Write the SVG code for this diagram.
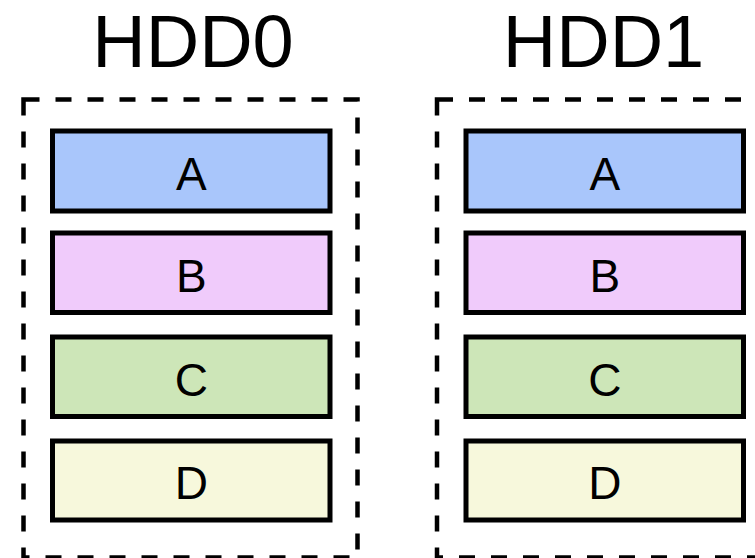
<svg xmlns="http://www.w3.org/2000/svg" width="755" height="558" viewBox="0 0 755 558">
  <style>
    .disk { fill: none; stroke: #000; stroke-width: 4.5; stroke-dasharray: 16 16; stroke-linejoin: miter; }
    .part { stroke: #000; stroke-width: 5; }
    .title { font-family: "Liberation Sans", Arial, sans-serif; font-size: 74px; fill: #000; text-anchor: middle; }
    .label { font-family: "Liberation Sans", Arial, sans-serif; font-size: 46px; fill: #000; text-anchor: middle; }
    .a { fill: #a9c6fb; }
    .b { fill: #f0cbfb; }
    .c { fill: #cde6b8; }
    .d { fill: #f7f8dc; }
  </style>

  <!-- Disk 0 -->
  <g id="hdd0">
    <text class="title" x="193" y="67">HDD0</text>
    <path class="disk" d="M23.5,99.5 H357.5 V557.5 H23.5 Z"/>
    <g id="hdd0-a">
      <rect class="part a" x="52.5" y="131" width="277.5" height="80"/>
      <text class="label" x="191.25" y="189.5">A</text>
    </g>
    <g id="hdd0-b">
      <rect class="part b" x="52.5" y="233" width="277.5" height="79.5"/>
      <text class="label" x="191.25" y="291.5">B</text>
    </g>
    <g id="hdd0-c">
      <rect class="part c" x="52.5" y="337" width="277.5" height="79.5"/>
      <text class="label" x="191.25" y="395.5">C</text>
    </g>
    <g id="hdd0-d">
      <rect class="part d" x="52.5" y="441" width="277.5" height="79"/>
      <text class="label" x="191.25" y="499">D</text>
    </g>
  </g>

  <!-- Disk 1 -->
  <g id="hdd1" transform="translate(413.5,0)">
    <text class="title" x="190" y="67">HDD1</text>
    <path class="disk" d="M23.5,99.5 H357.5 V557.5 H23.5 Z"/>
    <g id="hdd1-a">
      <rect class="part a" x="52.5" y="131" width="277.5" height="80"/>
      <text class="label" x="191.25" y="189.5">A</text>
    </g>
    <g id="hdd1-b">
      <rect class="part b" x="52.5" y="233" width="277.5" height="79.5"/>
      <text class="label" x="191.25" y="291.5">B</text>
    </g>
    <g id="hdd1-c">
      <rect class="part c" x="52.5" y="337" width="277.5" height="79.5"/>
      <text class="label" x="191.25" y="395.5">C</text>
    </g>
    <g id="hdd1-d">
      <rect class="part d" x="52.5" y="441" width="277.5" height="79"/>
      <text class="label" x="191.25" y="499">D</text>
    </g>
  </g>

  <!-- no connectors between the disks -->
  <g id="connectors"/>
</svg>
